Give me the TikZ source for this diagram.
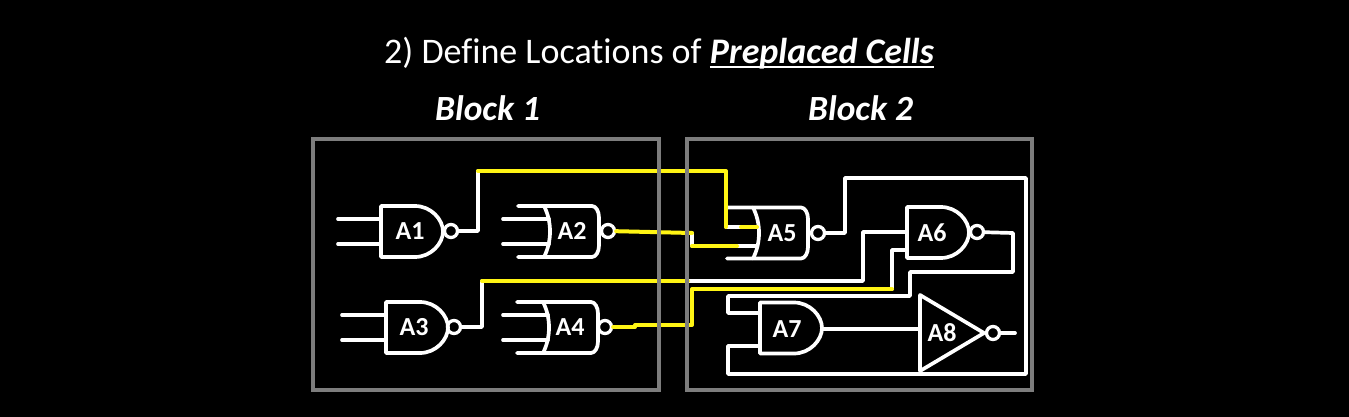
\documentclass[tikz,border=0pt]{standalone}
\usepackage{fontspec}
\setmainfont{Carlito}[RawFeature={-liga}]
\definecolor{wireyellow}{RGB}{255,245,20}
\definecolor{blockgray}{RGB}{125,125,125}
\newsavebox{\cellsbox}
\tikzset{
  x=1pt,y=-1pt,
  wirew/.style={draw=white,line width=3.7pt,line join=round,line cap=round},
  wirey/.style={draw=wireyellow,line width=4pt,line join=round,line cap=round},
  blockbox/.style={draw=blockgray,line width=4.6pt},
  bubble/.style={circle,draw=white,line width=3.3pt,minimum size=13pt,inner sep=0pt},
  gatelabel/.style={text=white,font=\fontsize{26}{26}\selectfont\bfseries,inner sep=0pt},
  headlabel/.style={text=white,anchor=base west,inner sep=0pt},
  nandbody/.pic={
    \draw[wirew] (0,-25.5) -- (34,-25.5) .. controls (50,-25.5) and (62,-12) .. (62,0)
      .. controls (62,12) and (50,25.5) .. (34,25.5) -- (0,25.5) -- cycle;
    \coordinate (-i1) at (0,-12.5);
    \coordinate (-i2) at (0,12.5);
  },
  orbody/.pic={
    \draw[wirew] (-26,-25.5) -- (48,-25.5) .. controls (52,-25.5) and (55,-20) .. (55,-14)
      -- (55,14) .. controls (55,20) and (52,25.5) .. (48,25.5) -- (-26,25.5);
    \draw[wirew] (0,-25.5) .. controls (8,-10) and (8,10) .. (0,25.5);
    \coordinate (-i1) at (5,-12.5);
    \coordinate (-i2) at (5,12.5);
  },
}
\begin{document}
\begin{tikzpicture}
\path[fill=black,use as bounding box] (0,0) rectangle (1349,417);

% headings
\node[headlabel,font=\fontsize{36}{36}\selectfont] (title) at (384,63.5)
  {2) Define Locations of \sbox{\cellsbox}{\textbf{\textit{Preplaced Cells}}}\rlap{\usebox{\cellsbox}}\raisebox{-4.5pt}{\rule{\wd\cellsbox}{1.8pt}}};
\node[headlabel,font=\fontsize{35.4}{35.4}\selectfont\bfseries\itshape] (b1title) at (435,121) {Block 1};
\node[headlabel,font=\fontsize{35.4}{35.4}\selectfont\bfseries\itshape] (b2title) at (808,121) {Block 2};

% gates
\pic (g1) at (381,231.5) {nandbody};
\pic (g3) at (386,327.5) {nandbody};
\pic (g6) at (907,232.5) {nandbody};
\pic (g7) at (760,328) {nandbody};
\pic (g2) at (544,231.5) {orbody};
\pic (g4) at (543,327.5) {orbody};
\pic (g5) at (753,233) {orbody};

% inverter
\coordinate (a8top) at (920,295);
\coordinate (a8bot) at (920,371);
\coordinate (a8tip) at (984,333);
\coordinate (a8in) at (920,329);
\draw[wirew] (a8top) -- (a8tip) -- (a8bot) -- cycle;

% bubbles
\node[bubble] (b1) at (451,231) {};
\node[bubble] (b2) at (608,231) {};
\node[bubble] (b3) at (454,327) {};
\node[bubble] (b4) at (605,327) {};
\node[bubble] (b5) at (818,233) {};
\node[bubble] (b6) at (977,232) {};
\node[bubble] (b8) at (993,333) {};

% labels
\node[gatelabel] (a1) at (410,231) {A1};
\node[gatelabel] (a2) at (572,231) {A2};
\node[gatelabel] (a3) at (414,327) {A3};
\node[gatelabel] (a4) at (570,327) {A4};
\node[gatelabel] (a5) at (782,233) {A5};
\node[gatelabel] (a6) at (932,233) {A6};
\node[gatelabel] (a7) at (787,329) {A7};
\node[gatelabel] (a8) at (942,333) {A8};

% free input stubs
\draw[wirew] (g1-i1) -- ++(-43,0);
\draw[wirew] (g1-i2) -- ++(-43,0);
\draw[wirew] (g3-i1) -- ++(-44,0);
\draw[wirew] (g3-i2) -- ++(-44,0);
\draw[wirew] (g2-i1) -- ++(-46,0);
\draw[wirew] (g2-i2) -- ++(-46,0);
\draw[wirew] (g4-i1) -- ++(-45,0);
\draw[wirew] (g4-i2) -- ++(-45,0);
\coordinate (o8) at (1015,333);
\draw[wirew] (b8) -- (o8);

% A1 -> A5
\coordinate (n1a) at (478,231);
\coordinate (n1b) at (478,171);
\coordinate (n1c) at (726,171);
\coordinate (n1d) at (726,227);
\coordinate (n1e) at (741,227);
\coordinate (n1f) at (757,227);
\draw[wirew] (b1) -- (n1a) -- (n1b);
\draw[wirew] (n1d) -- (n1e);
\draw[wirey] (n1b) -- (n1c) -- (n1d);
\draw[wirey] (n1e) -- (n1f);

% A2 -> A5
\coordinate (n2a) at (692,233);
\coordinate (n2b) at (692,246);
\coordinate (n2c) at (737,246);
\coordinate (n2d) at (757,246);
\draw[wirew] (n2a) -- (n2b);
\draw[wirew] (n2c) -- (n2d);
\draw[wirey] (b2) -- (n2a);
\draw[wirey] (n2b) -- (n2c);

% A3 -> A6
\coordinate (n3a) at (482,327);
\coordinate (n3b) at (482,281);
\coordinate (n3c) at (688,281);
\coordinate (n3d) at (863,281);
\coordinate (n3e) at (863,232);
\coordinate (n6a) at (907,232);
\draw[wirew] (b3) -- (n3a) -- (n3b);
\draw[wirew] (n3c) -- (n3d) -- (n3e) -- (n6a);
\draw[wirey] (n3b) -- (n3c);

% A4 -> A6
\coordinate (n4a) at (635,327);
\coordinate (n4b) at (635,325);
\coordinate (n4c) at (692,325);
\coordinate (n4d) at (692,289);
\coordinate (n4e) at (892,289);
\coordinate (n4f) at (892,250);
\coordinate (n6h) at (907,250);
\draw[wirew] (n4e) -- (n4f) -- (n6h);
\draw[wirey] (b4) -- (n4a) -- (n4b) -- (n4c) -- (n4d) -- (n4e);

% A5 -> A7 lower input
\coordinate (n5a) at (845,233);
\coordinate (n5b) at (845,178);
\coordinate (n5c) at (1026,178);
\coordinate (n5d) at (1026,374);
\coordinate (n5e) at (728,374);
\coordinate (n5f) at (728,346);
\coordinate (n5g) at (760,346);
\draw[wirew] (b5) -- (n5a) -- (n5b) -- (n5c) -- (n5d) -- (n5e) -- (n5f) -- (n5g);

% A6 -> A7 upper input
\coordinate (n6b) at (1013,233);
\coordinate (n6c) at (1013,272);
\coordinate (n6d) at (910,272);
\coordinate (n6e) at (910,296);
\coordinate (n6f) at (728,296);
\coordinate (n6g) at (728,313);
\coordinate (n6i) at (760,313);
\draw[wirew] (b6) -- (n6b) -- (n6c) -- (n6d) -- (n6e) -- (n6f) -- (n6g) -- (n6i);

% A7 -> A8
\coordinate (o7) at (822,329);
\draw[wirew] (o7) -- (a8in);

% blocks
\node[blockbox,minimum width=346pt,minimum height=251pt,inner sep=0pt] (block1) at (486,264.5) {};
\node[blockbox,minimum width=345pt,minimum height=251pt,inner sep=0pt] (block2) at (859.5,264.5) {};
\end{tikzpicture}
\end{document}
